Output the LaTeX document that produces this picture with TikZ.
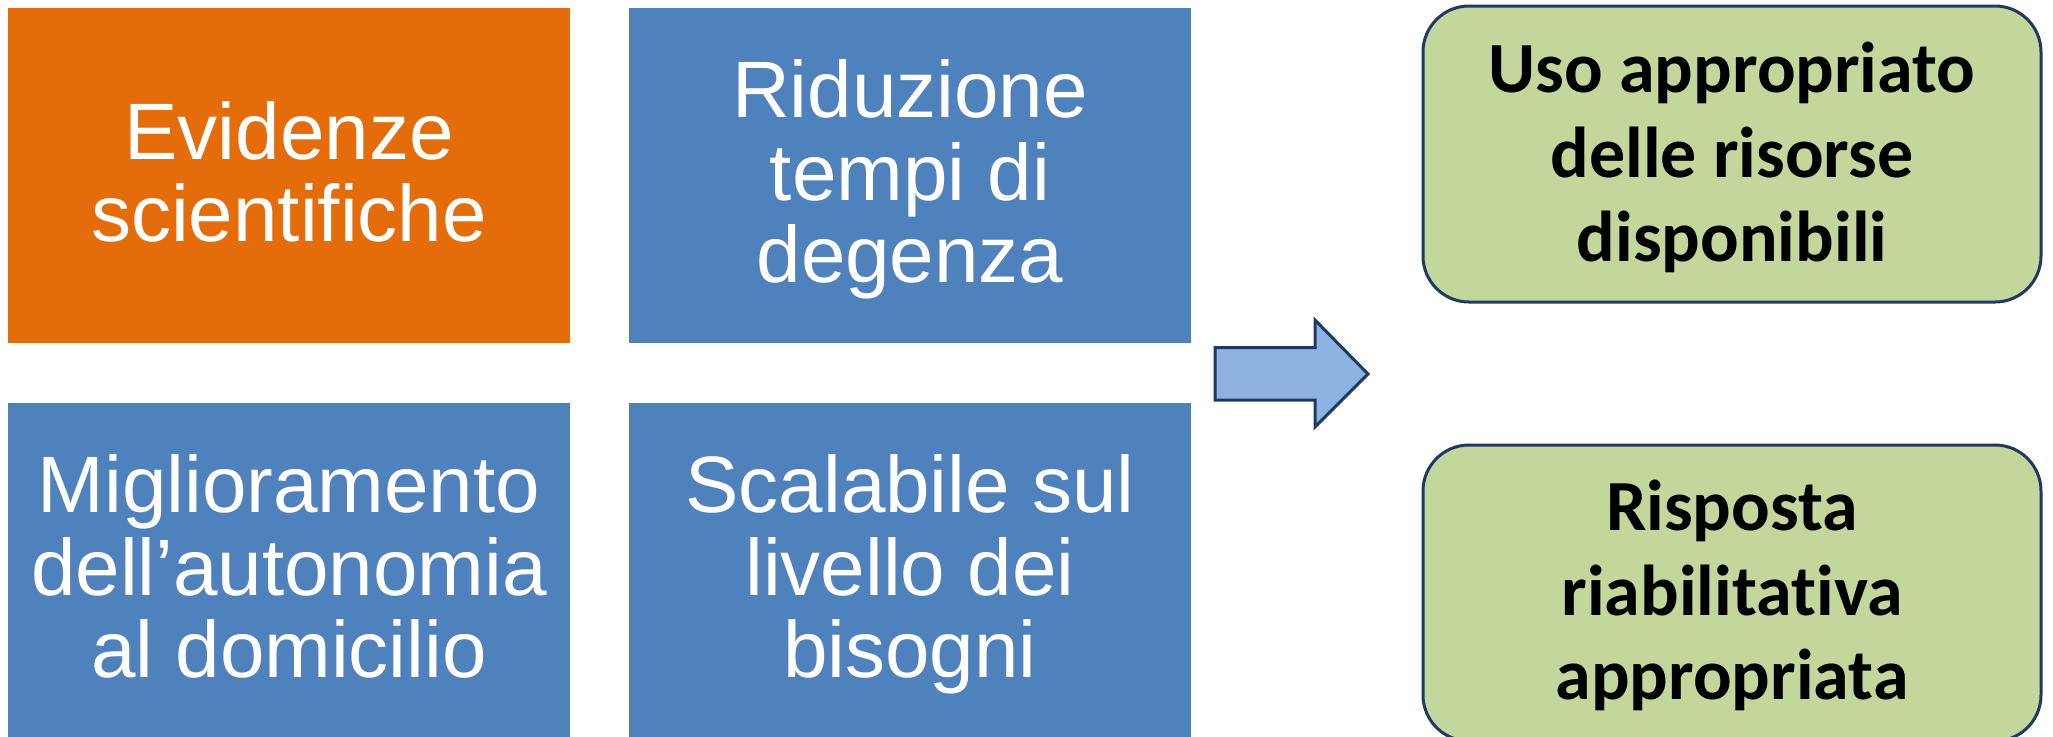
\documentclass[tikz,border=0pt]{standalone}
\usepackage{fontspec}
\setmainfont[Ligatures=NoCommon]{Liberation Sans}
\newfontfamily\calfont[Ligatures=NoCommon,RawFeature={-liga;-dlig;-clig}]{Carlito}
\definecolor{orangeF}{HTML}{E46C0A}
\definecolor{blueF}{HTML}{4F81BD}
\definecolor{arrowF}{HTML}{8DB3E2}
\definecolor{navyD}{HTML}{1F3864}
\definecolor{greenF}{HTML}{C3D69B}
\newcommand{\myTop}{\rule{0pt}{40pt}}
\newcommand{\myBot}{\rule[-40pt]{0pt}{40pt}}
\tikzset{
  sqbox/.style={rectangle, inner sep=0pt, outer sep=0pt, draw=none,
    minimum width=281pt, minimum height=167.5pt},
  wtext/.style={text=white, align=center, inner sep=0pt,
    font=\fontsize{40pt}{41.25pt}\selectfont},
  gbox/.style={rectangle, rounded corners=23pt, fill=greenF, draw=navyD,
    line width=1.5pt, inner sep=0pt, minimum width=309pt, minimum height=148pt},
  btext/.style={text=black, align=center, inner sep=0pt,
    font=\calfont\bfseries\fontsize{36pt}{42.25pt}\selectfont},
  blockarrow/.style={fill=arrowF, draw=navyD, line width=1.5pt, line join=miter}
}
\begin{document}
\begin{tikzpicture}[x=0.5pt, y=-0.5pt]
\useasboundingbox (0,0) rectangle (2053,736);
% left grid
\node[sqbox, fill=orangeF] (ev) at (289,175.5) {};
\node[sqbox, fill=blueF] (rid) at (910,175.5) {};
\node[sqbox, fill=blueF] (mig) at (289,570.5) {};
\node[sqbox, fill=blueF] (sca) at (910,570.5) {};
\node[wtext] (evt) at (289,200.3) {\myTop Evidenze\\scientifiche\myBot};
\node[wtext] (ridt) at (910,200) {\myTop Riduzione\\tempi di\\degenza\myBot};
\node[wtext] (migt) at (289,595) {\myTop Miglioramento\\dell’autonomia\\al domicilio\myBot};
\node[wtext] (scat) at (910,595) {\myTop Scalabile sul\\livello dei\\bisogni\myBot};
% block arrow
\draw[blockarrow] (1215,347.7) -- (1315,347.7) -- (1315,320) -- (1368,374)
  -- (1315,427) -- (1315,400) -- (1215,400) -- cycle;
% green outcome boxes
\node[gbox] (uso) at (1732,154) {};
\node[gbox] (ris) at (1732,593) {};
\node[btext] (usot) at (1732,177) {\myTop Uso appropriato\\delle risorse\\disponibili\myBot};
\node[btext] (rist) at (1732,615) {\myTop Risposta\\riabilitativa\\appropriata\myBot};
\end{tikzpicture}
\end{document}
